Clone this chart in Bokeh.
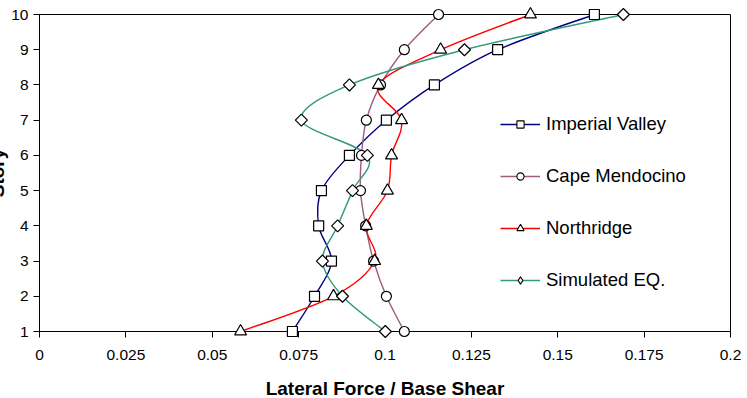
import math
from bokeh.plotting import figure
from bokeh.models import (Range1d, FixedTicker, Legend, LegendItem,
                          ColumnDataSource)
from bokeh.embed import file_html
from bokeh.resources import INLINE

# ---- data ----
stories = [1, 2, 3, 4, 5, 6, 7, 8, 9, 10]
imperial_valley = [0.0732, 0.0796, 0.0845, 0.0808, 0.0816, 0.0897, 0.1004, 0.1143, 0.1326, 0.1606]
cape_mendocino = [0.1056, 0.1004, 0.0967, 0.0944, 0.0929, 0.0932, 0.0946, 0.0987, 0.1056, 0.1155]
northridge = [0.0582, 0.0851, 0.0970, 0.0946, 0.1007, 0.1019, 0.1048, 0.0981, 0.1161, 0.1421]
simulated = [0.1001, 0.0877, 0.0819, 0.0863, 0.0906, 0.0949, 0.0758, 0.0897, 0.1230, 0.1690]
x_ticks = [0, 0.025, 0.05, 0.075, 0.1, 0.125, 0.15, 0.175, 0.2]
x_tick_labels = ["0", "0.025", "0.05", "0.075", "0.1", "0.125", "0.15", "0.175", "0.2"]
y_ticks = [1, 2, 3, 4, 5, 6, 7, 8, 9, 10]

# name, values, line colour, marker, marker size, marker angle, legend marker
series = [
    ("Imperial Valley", imperial_valley, "#000080", "square", 10, 0.0, "square"),
    ("Cape Mendocino", cape_mendocino, "#9c5c80", "circle", 10, 0.0, "circle"),
    ("Northridge", northridge, "#ff0000", "triangle", 12, 0.0, "triangle"),
    ("Simulated EQ.", simulated, "#339980", "square", 8.5, math.pi / 4, "diamond"),
]

FONT = "Liberation Sans"
SHIFT = 21  # the reference is cropped on the left, cutting the y-axis title

p = figure(width=747 + SHIFT, height=398, output_backend="svg", toolbar_location=None,
           x_range=Range1d(0, 0.2), y_range=Range1d(1, 10),
           min_border_left=39 + SHIFT, min_border_right=17, min_border_top=14,
           min_border_bottom=67)
p.frame_width = 691
p.frame_height = 317
p.styles = {"margin-left": f"-{SHIFT}px"}
p.outline_line_color = "black"
p.outline_line_width = 1
p.xgrid.visible = False
p.ygrid.visible = False
p.background_fill_color = "white"
p.border_fill_color = "white"

for ax in (p.xaxis[0], p.yaxis[0]):
    ax.axis_line_color = "black"
    ax.major_tick_line_color = "black"
    ax.minor_tick_line_color = None
    ax.major_tick_in = 0
    ax.major_tick_out = 6
    ax.major_label_text_font = FONT
    ax.major_label_text_font_size = "15.5px"
    ax.major_label_text_color = "black"
    ax.axis_label_text_font = FONT
    ax.axis_label_text_font_size = "19px"
    ax.axis_label_text_font_style = "bold"
    ax.axis_label_text_color = "black"

p.xaxis[0].ticker = FixedTicker(ticks=x_ticks)
p.xaxis[0].major_label_overrides = {t: l for t, l in zip(x_ticks, x_tick_labels)}
p.xaxis[0].major_label_standoff = 12
p.xaxis[0].axis_label = "Lateral Force / Base Shear"
p.xaxis[0].axis_label_standoff = 15

p.yaxis[0].ticker = FixedTicker(ticks=y_ticks)
p.yaxis[0].major_label_standoff = 5
p.yaxis[0].axis_label = "Story"
p.yaxis[0].axis_label_standoff = 0


def bezier_source(xs, ys):
    n = len(xs)
    x0, y0, x1, y1, cx0, cy0, cx1, cy1 = [], [], [], [], [], [], [], []
    for i in range(n - 1):
        im1 = max(i - 1, 0)
        ip2 = min(i + 2, n - 1)
        x0.append(xs[i]); y0.append(ys[i])
        x1.append(xs[i + 1]); y1.append(ys[i + 1])
        cx0.append(xs[i] + (xs[i + 1] - xs[im1]) / 6.0)
        cy0.append(ys[i] + (ys[i + 1] - ys[im1]) / 6.0)
        cx1.append(xs[i + 1] - (xs[ip2] - xs[i]) / 6.0)
        cy1.append(ys[i + 1] - (ys[ip2] - ys[i]) / 6.0)
    return ColumnDataSource(dict(x0=x0, y0=y0, x1=x1, y1=y1,
                                 cx0=cx0, cy0=cy0, cx1=cx1, cy1=cy1))


for name, vals, color, marker, size, ang, lmarker in series:
    src = bezier_source(vals, stories)
    p.bezier(x0="x0", y0="y0", x1="x1", y1="y1", cx0="cx0", cy0="cy0",
             cx1="cx1", cy1="cy1", source=src, line_color=color, line_width=1.4)

items = []
for name, vals, color, marker, size, ang, lmarker in series:
    mr = p.scatter(x=vals, y=stories, marker=marker, size=size, angle=ang,
                   fill_color="white", line_color="black", line_width=1.2)
    mr.level = "overlay"
    # legend-only samples (hidden on the plot itself)
    lr = p.line(x=vals, y=stories, line_color=color, line_width=1.4)
    lr.visible = False
    lm = p.scatter(x=vals, y=stories, marker=lmarker, fill_color="white",
                   line_color="black", line_width=1.1)
    lm.visible = False
    items.append(LegendItem(label=name, renderers=[lr, lm]))

legend = Legend(items=items, location=(461, 40), orientation="vertical",
                glyph_width=40, glyph_height=18, spacing=30, padding=0,
                margin=0, label_standoff=6, label_text_font=FONT,
                label_text_font_size="18.5px", label_text_color="black",
                border_line_alpha=0, background_fill_alpha=0)
p.add_layout(legend, "center")

open("out.html", "w").write(file_html(p, INLINE))
